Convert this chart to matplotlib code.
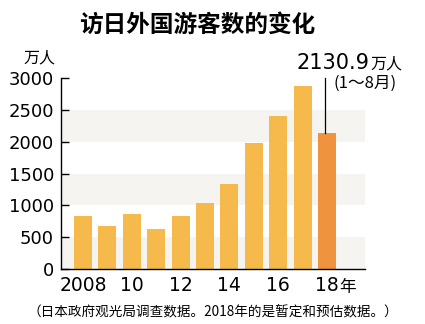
import matplotlib
matplotlib.use("Agg")
import matplotlib.pyplot as plt

years = [2008, 2009, 2010, 2011, 2012, 2013, 2014, 2015, 2016, 2017, 2018]
visitors = [835, 679, 861, 622, 836, 1036, 1341, 1974, 2404, 2869, 2130.9]
xtick_years = [2008, 2010, 2012, 2014, 2016, 2018]
xtick_labels = ["2008", "10", "12", "14", "16", "18"]
yticks = [0, 500, 1000, 1500, 2000, 2500, 3000]

FAM = ["DejaVu Sans", "Noto Sans CJK JP"]
CJK = ["Noto Sans CJK SC", "DejaVu Sans"]

fig = plt.figure(figsize=(4.25, 3.24), dpi=100)
ax = fig.add_axes([61/425, 55/324, 304/425, 191/324])

for lo in (0, 1000, 2000):
    ax.axhspan(lo, lo + 500, color="#F5F4F1", lw=0, zorder=0)

colors = ["#F5BA4B"] * (len(years) - 1) + ["#F0933F"]
ax.bar(years, visitors, width=0.74, color=colors, zorder=2)

ax.set_xlim(2007.1, 2019.56)
ax.set_ylim(0, 3000)
ax.set_yticks(yticks)
ax.set_yticklabels([str(v) for v in yticks], family=FAM, fontsize=13)
ax.set_xticks(xtick_years)
ax.set_xticklabels(xtick_labels, family=FAM, fontsize=13.5)
ax.tick_params(axis="y", direction="in", length=6, width=1, pad=5, color="black")
ax.tick_params(axis="x", length=0, pad=5)
for s in ("top", "right"):
    ax.spines[s].set_visible(False)
ax.spines["left"].set_linewidth(1)
ax.spines["bottom"].set_linewidth(1)

# 年 after 18
ax.annotate("年", xy=(2018, 0), xycoords="data", xytext=(8.5, -16.8), textcoords="offset points",
            ha="left", va="baseline", family=CJK, fontsize=12)

# annotation line
ax.plot([2017.93, 2017.93], [visitors[-1], 3000], color="black", lw=0.9, clip_on=False, zorder=3)

fig.text(197/425, 1 - 25/324, "访日外国游客数的变化", ha="center", va="center",
         family=CJK, fontsize=17, fontweight="bold")
fig.text(55/425, 1 - 58/324, "万人", ha="right", va="center", family=CJK, fontsize=11.5)
fig.text(370/425, 1 - 63/324, "2130.9", ha="right", va="center", family=FAM, fontsize=15)
fig.text(370/425, 1 - 64/324, "万人", ha="left", va="center", family=CJK, fontsize=11.5)
fig.text(397/425, 1 - 83/324, "(1～8月)", ha="right", va="center", family=CJK, fontsize=12)
fig.text(213/425, 1 - 312/324, "（日本政府观光局调查数据。2018年的是暂定和预估数据。）",
         ha="center", va="center", family=CJK, fontsize=9.8, fontweight="medium")

fig.savefig("out.png", dpi=100)
